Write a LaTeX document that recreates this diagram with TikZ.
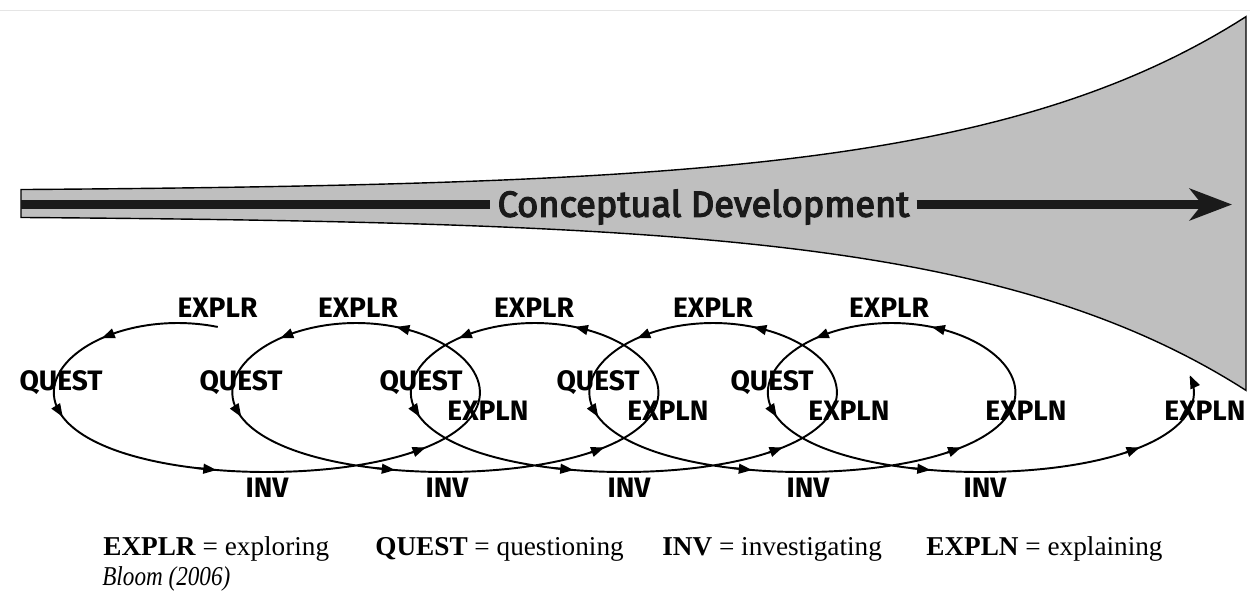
\documentclass[tikz,border=0pt]{standalone}
\usepackage{fontspec}
\setmainfont{Liberation Serif}
\newfontfamily\stagefont{Fira Sans}
\newfontfamily\devfont[FakeBold=3.5]{Fira Sans}
\usepackage{tikz}
\usetikzlibrary{arrows.meta, calc, positioning}
\definecolor{funnelgray}{RGB}{191, 191, 191}
\definecolor{barblack}{RGB}{26, 26, 26}

\tikzset{
	stage/.style={font=\stagefont\bfseries\fontsize{16}{16}\selectfont, inner sep=0pt, anchor=base},
	devtext/.style={font=\devfont\fontsize{20.6}{20.6}\selectfont, inner xsep=4pt, inner ysep=0pt, anchor=base, text=barblack},
	devbar/.style={line width=5.1pt, draw=barblack},
	loopline/.style={line width=1.1pt},
	looptip/.style={-{Triangle[length=7.5pt,width=5.6pt]}},
	keytext/.style={font=\fontsize{15.5}{18}\selectfont, inner sep=0pt, anchor=base west},
}

\begin{document}
\begin{tikzpicture}[x=0.02cm, y=-0.02cm,
	declare function={
		spx(\t)=133+\t*0.49583+166*cos(\t);
		spy(\t)=397.5-74.5*sin(\t)+8*cos(\t)*cos(\t);
		fw(\u)=12+1.97*exp(0.003667*(\u-21));
	}]
	\pgfmathsetmacro{\midy}{203.5}
	\useasboundingbox (0,0) rectangle (1250,593);
	% page edge
	\draw[gray!20, line width=0.5pt] (0,10) -- (1250,10);
	
	% Funnel
	\filldraw[fill=funnelgray, draw=black, line width=0.8pt]
		plot[domain=21:1246, samples=120, variable=\u] (\u,{\midy-fw(\u)})
		-- plot[domain=1246:21, samples=120, variable=\u] (\u,{\midy+fw(\u)}) -- cycle;
	
	% Bar with title
	\coordinate (barstart) at (21,204.5);
	\coordinate (bartip) at (1232,204.5);
	\node[devtext] (dev) at (703.5,216.7) {Conceptual Development};
	\draw[devbar] (barstart) -- (barstart -| dev.west);
	\draw[devbar, -{Stealth[length=24pt,width=18pt,inset=7pt]}] (bartip -| dev.east) -- (bartip);
	
	% Spiral
	\draw[loopline, looptip] plot[domain=73:1823, samples=600, smooth, variable=\t] ({spx(\t)},{spy(\t)});
	\foreach \a in {121,186,252,320, 430,481,546,612,680, 790,841,906,972,1040, 1150,1201,1266,1332,1400, 1510,1561,1626,1692,1760}
	{
		\draw[loopline, looptip] ({spx(\a-3)},{spy(\a-3)}) -- ({spx(\a+3)},{spy(\a+3)});
	}
	
	% Stage labels
	\foreach \x [count=\i] in {217.5,358,534,713,889}
		\node[stage] (explr\i) at (\x,317) {EXPLR};
	\foreach \x [count=\i] in {61,241,421,598,772}
		\node[stage] (quest\i) at (\x,390) {QUEST};
	\foreach \x [count=\i] in {488,668,849,1026,1205}
		\node[stage] (expln\i) at (\x,420) {EXPLN};
	\foreach \x [count=\i] in {267,447,629,808,985}
		\node[stage] (inv\i) at (\x,497) {INV};
	
	% Key
	\node[keytext] (keyexplr) at (103,555) {\textbf{EXPLR} = exploring};
	\node[keytext] (keyquest) at (375,555) {\textbf{QUEST} = questioning};
	\node[keytext] (keyinv) at (662,555) {\textbf{INV} = investigating};
	\node[keytext] (keyexpln) at (926,555) {\textbf{EXPLN} = explaining};
	\node[keytext] (source) at (102,585) {\scalebox{0.85}[1]{\textit{Bloom (2006)}}};
\end{tikzpicture}
\end{document}
